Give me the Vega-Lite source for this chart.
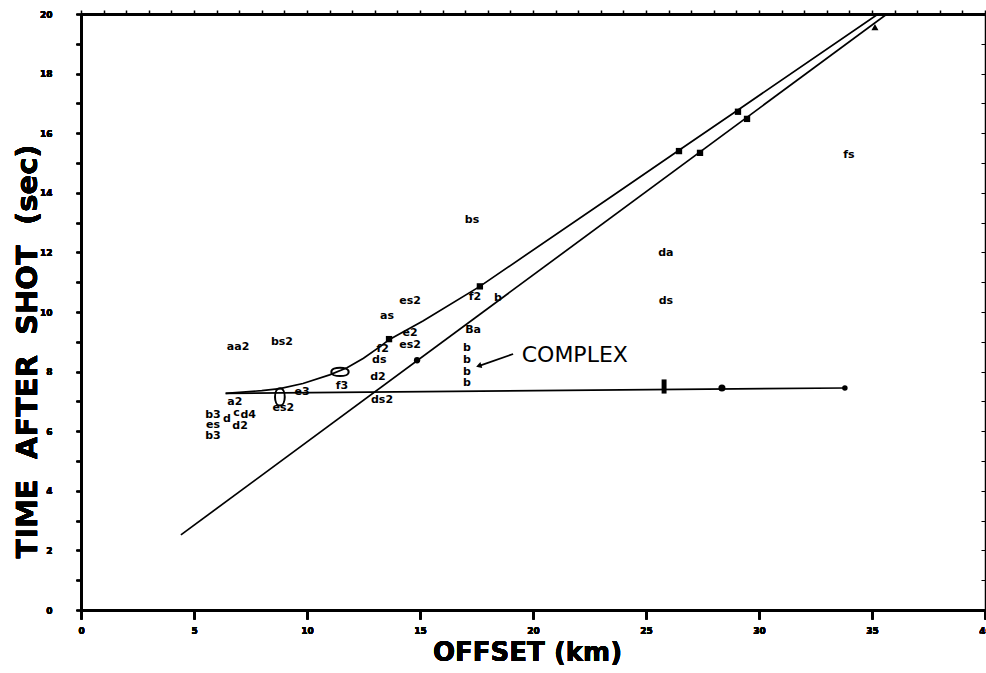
{
  "$schema": "https://vega.github.io/schema/vega-lite/v6.json",
  "width": 904,
  "height": 596,
  "autosize": {"type": "none"},
  "padding": {"left": 81, "top": 14, "right": 1, "bottom": 63},
  "background": "white",
  "config": {
    "view": {"stroke": null},
    "axis": {
      "domainColor": "black", "tickColor": "black", "labelColor": "black", "titleColor": "black",
      "grid": false, "labelFont": "DejaVu Sans", "labelFontWeight": "bold", "labelFontSize": 10,
      "titleFont": "DejaVu Sans", "titleFontWeight": "bold"
    }
  },
  "datasets": {
    "lines": [
      {"series": "L", "x": 4.42, "y": 2.52},
      {"series": "L", "x": 35.66, "y": 20},
      {"series": "U", "x": 6.4, "y": 7.27},
      {"series": "U", "x": 8.0, "y": 7.36},
      {"series": "U", "x": 8.8, "y": 7.43},
      {"series": "U", "x": 9.82, "y": 7.6},
      {"series": "U", "x": 11.0, "y": 7.89},
      {"series": "U", "x": 11.77, "y": 8.13},
      {"series": "U", "x": 12.5, "y": 8.45},
      {"series": "U", "x": 13.2, "y": 8.82},
      {"series": "U", "x": 13.65, "y": 9.08},
      {"series": "U", "x": 15.13, "y": 9.7},
      {"series": "U", "x": 17.65, "y": 10.86},
      {"series": "U", "x": 23.54, "y": 13.91},
      {"series": "U", "x": 26.46, "y": 15.43},
      {"series": "U", "x": 29.07, "y": 16.78},
      {"series": "U", "x": 35.27, "y": 20},
      {"series": "H", "x": 6.4, "y": 7.27},
      {"series": "H", "x": 33.8, "y": 7.45}
    ],
    "markers": [
      {"x": 13.63, "y": 9.09, "shape": "square", "size": 40},
      {"x": 17.65, "y": 10.86, "shape": "square", "size": 40},
      {"x": 26.46, "y": 15.4, "shape": "square", "size": 40},
      {"x": 29.07, "y": 16.72, "shape": "square", "size": 40},
      {"x": 14.87, "y": 8.38, "shape": "circle", "size": 40},
      {"x": 27.39, "y": 15.34, "shape": "square", "size": 40},
      {"x": 29.47, "y": 16.48, "shape": "square", "size": 40},
      {"x": 35.13, "y": 19.56, "shape": "triangle-up", "size": 50},
      {"x": 28.36, "y": 7.45, "shape": "circle", "size": 50},
      {"x": 33.8, "y": 7.45, "shape": "circle", "size": 30},
      {"x": 25.8, "y": 7.5, "shape": "M-0.35,-1L0.35,-1L0.35,1L-0.35,1Z", "size": 200}
    ],
    "loops": [
      {"x": 8.8, "y": 7.15, "shape": "M0,-1C0.75,-1 0.75,1 0,1C-0.75,1 -0.75,-1 0,-1Z"},
      {"x": 11.46, "y": 7.99, "shape": "M-1,0C-1,-0.65 1,-0.65 1,0C1,0.65 -1,0.65 -1,0Z"}
    ],
    "labels": [
      {"label": "aa2", "x": 6.95, "y": 8.83},
      {"label": "bs2", "x": 8.89, "y": 8.99},
      {"label": "as", "x": 13.54, "y": 9.87},
      {"label": "es2", "x": 14.56, "y": 10.37},
      {"label": "e2", "x": 14.56, "y": 9.3},
      {"label": "es2", "x": 14.56, "y": 8.9},
      {"label": "f2", "x": 13.35, "y": 8.76},
      {"label": "ds", "x": 13.2, "y": 8.38},
      {"label": "d2", "x": 13.14, "y": 7.82},
      {"label": "f3", "x": 11.55, "y": 7.52},
      {"label": "ds2", "x": 13.32, "y": 7.05},
      {"label": "e3", "x": 9.78, "y": 7.3},
      {"label": "a2", "x": 6.81, "y": 6.98},
      {"label": "es2", "x": 8.95, "y": 6.78},
      {"label": "b3", "x": 5.84, "y": 6.55},
      {"label": "es", "x": 5.84, "y": 6.2},
      {"label": "b3", "x": 5.84, "y": 5.85},
      {"label": "d", "x": 6.46, "y": 6.4},
      {"label": "c", "x": 6.88, "y": 6.62},
      {"label": "d4", "x": 7.4, "y": 6.55},
      {"label": "d2", "x": 7.04, "y": 6.16},
      {"label": "bs", "x": 17.3, "y": 13.09},
      {"label": "f2", "x": 17.43, "y": 10.5},
      {"label": "b", "x": 18.45, "y": 10.47},
      {"label": "Ba", "x": 17.35, "y": 9.4},
      {"label": "da", "x": 25.88, "y": 11.98},
      {"label": "ds", "x": 25.88, "y": 10.37},
      {"label": "fs", "x": 33.98, "y": 15.27},
      {"label": "b", "x": 17.08, "y": 8.8},
      {"label": "b", "x": 17.08, "y": 8.4},
      {"label": "b", "x": 17.08, "y": 8.0},
      {"label": "b", "x": 17.08, "y": 7.62}
    ],
    "arrow": [{"x": 19.12, "y": 8.59, "x2": 17.62, "y2": 8.19}],
    "arrowhead": [{"x": 17.6, "y": 8.19}],
    "note": [{"x": 19.5, "y": 8.56, "label": "COMPLEX"}]
  },
  "encoding": {
    "x": {
      "field": "x", "type": "quantitative",
      "scale": {"domain": [0, 40], "nice": false, "zero": false},
      "axis": {
        "orient": "bottom", "values": [0, 5, 10, 15, 20, 25, 30, 35, 40],
        "tickSize": 9, "tickWidth": 2, "domainWidth": 2.5, "labelPadding": 7,
        "labelFontSize": 9, "labelFlush": false,
        "title": "OFFSET (km)", "titleFontSize": 26, "titleX": 446, "titleY": 42,
        "titleBaseline": "middle", "titleAlign": "center"
      }
    },
    "y": {
      "field": "y", "type": "quantitative",
      "scale": {"domain": [0, 20], "nice": false, "zero": false},
      "axis": {
        "orient": "left",
        "values": [0,1,2,3,4,5,6,7,8,9,10,11,12,13,14,15,16,17,18,19,20],
        "labelExpr": "datum.value % 2 == 0 ? datum.label : ''",
        "tickSize": 5, "tickWidth": 1.5, "domainWidth": 2.5, "labelPadding": 24,
        "labelFontSize": 9, "labelFlush": false,
        "title": "TIME\u00a0 AFTER\u00a0 SHOT\u00a0 (sec)", "titleFontSize": 29, "titleX": -54, "titleY": 337,
        "titleAngle": -90, "titleBaseline": "middle", "titleAlign": "center"
      }
    }
  },
  "layer": [
    {
      "data": {"name": "lines"},
      "mark": {"type": "point", "opacity": 0},
      "encoding": {
        "x": {
          "field": "x", "type": "quantitative",
          "scale": {"domain": [0, 40], "nice": false, "zero": false},
          "axis": {
            "orient": "top", "values": [0,1,2,3,4,5,6,7,8,9,10,11,12,13,14,15,16,17,18,19,20,21,22,23,24,25,26,27,28,29,30,31,32,33,34,35,36,37,38,39,40],
            "labels": false, "tickSize": 4, "tickWidth": 1.5, "domainWidth": 3, "title": null
          }
        },
        "y": {
          "field": "y", "type": "quantitative",
          "scale": {"domain": [0, 20], "nice": false, "zero": false},
          "axis": {
            "orient": "right", "values": [0,1,2,3,4,5,6,7,8,9,10,11,12,13,14,15,16,17,18,19,20],
            "labels": false, "tickSize": -4, "tickWidth": 1, "domainWidth": 1.5, "title": null
          }
        }
      }
    },
    {
      "data": {"name": "lines"},
      "mark": {"type": "line", "color": "black", "strokeWidth": 1.7, "clip": true},
      "encoding": {"detail": {"field": "series"}}
    },
    {
      "data": {"name": "markers"},
      "mark": {"type": "point", "filled": true, "color": "black", "opacity": 1},
      "encoding": {
        "shape": {"field": "shape", "type": "nominal", "scale": null},
        "size": {"field": "size", "type": "quantitative", "scale": null}
      }
    },
    {
      "data": {"name": "loops"},
      "mark": {"type": "point", "filled": false, "color": "black", "strokeWidth": 2, "opacity": 1, "size": 300},
      "encoding": {"shape": {"field": "shape", "type": "nominal", "scale": null}}
    },
    {
      "data": {"name": "labels"},
      "mark": {"type": "text", "font": "DejaVu Sans", "fontWeight": "bold", "fontSize": 11, "color": "black", "align": "center", "baseline": "middle"},
      "encoding": {"text": {"field": "label"}}
    },
    {
      "data": {"name": "arrow"},
      "mark": {"type": "rule", "color": "black", "strokeWidth": 1.8},
      "encoding": {"x2": {"field": "x2"}, "y2": {"field": "y2"}}
    },
    {
      "data": {"name": "arrowhead"},
      "mark": {"type": "point", "shape": "triangle-left", "filled": true, "color": "black", "opacity": 1, "size": 40, "angle": 341.6}
    },
    {
      "data": {"name": "note"},
      "mark": {"type": "text", "font": "DejaVu Sans", "fontSize": 22, "color": "black", "align": "left", "baseline": "middle"},
      "encoding": {"text": {"field": "label"}}
    }
  ]
}
